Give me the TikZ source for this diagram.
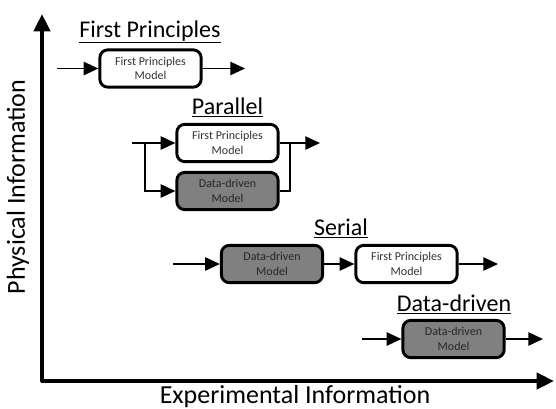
\documentclass[tikz,border=0pt]{standalone}
\usepackage{fontspec}
\setmainfont{Carlito}
\usetikzlibrary{arrows.meta}
\definecolor{ddgray}{RGB}{128,128,128}
\definecolor{txtgray}{RGB}{50,50,50}
\begin{document}
\begin{tikzpicture}[
    x=0.75pt, y=-0.75pt,
    model/.style={rectangle, draw, line width=2.2pt, rounded corners=6pt, minimum width=76pt, minimum height=28pt, align=center, inner sep=0pt, font=\fontsize{9}{11}\selectfont, text=txtgray},
    fpmodel/.style={model, fill=white},
    ddmodel/.style={model, fill=ddgray, text=black!85},
    conn/.style={line width=1.1pt, -{Triangle[length=11pt, width=10pt]}},
    wire/.style={line width=1.1pt},
    axis/.style={line width=3pt, -{Triangle[length=13pt, width=12pt]}},
    heading/.style={anchor=base, font=\fontsize{18}{20}\selectfont},
    axislabel/.style={font=\fontsize{19.5}{21}\selectfont}
]
    \useasboundingbox (0,0) rectangle (556,408);

    % axes
    \coordinate (origin) at (42,381);
    \coordinate (ytip) at (42,14);
    \coordinate (xtip) at (554,381);
    \draw[axis] ([yshift=-1.1pt]origin) -- (ytip);
    \draw[axis] ([xshift=-1.1pt]origin) -- (xtip);
    \node[axislabel, rotate=90] (ylab) at (18,187) {Physical Information};
    \node[axislabel] (xlab) at (295,396.5) {Experimental Information};

    % first principles
    \node[heading] (fptitle) at (150,37) {\underline{First Principles}};
    \node[fpmodel] (fp1) at (150.5,68.5) {First Principles\\Model};
    \coordinate (fp1in) at (57,68.5);
    \coordinate (fp1out) at (245,68.5);
    \draw[conn] (fp1in) -- (fp1.west);
    \draw[conn] (fp1.east) -- (fp1out);

    % parallel
    \node[heading] (partitle) at (227.5,114) {\underline{Parallel}};
    \node[fpmodel] (fp2) at (227.5,143) {First Principles\\Model};
    \node[ddmodel] (dd2) at (227.5,191) {Data-driven\\Model};
    \coordinate (parin) at (132,143);
    \coordinate (parsplit) at (145,143);
    \coordinate (parjoin) at (290,143);
    \coordinate (parout) at (320,143);
    \draw[conn] (parin) -- (fp2.west);
    \draw[conn] (parsplit) |- (dd2.west);
    \draw[conn] (fp2.east) -- (parout);
    \draw[wire] (dd2.east) -| (parjoin);

    % serial
    \node[heading] (sertitle) at (341,235) {\underline{Serial}};
    \node[ddmodel] (dd3) at (272,264) {Data-driven\\Model};
    \node[fpmodel] (fp3) at (406.5,264) {First Principles\\Model};
    \coordinate (serin) at (173,264);
    \coordinate (serout) at (498,264);
    \draw[conn] (serin) -- (dd3.west);
    \draw[conn] (dd3.east) -- (fp3.west);
    \draw[conn] (fp3.east) -- (serout);

    % data-driven
    \node[heading] (ddtitle) at (454,311) {\underline{Data-driven}};
    \node[ddmodel] (dd4) at (453.5,339) {Data-driven\\Model};
    \coordinate (ddin) at (362,339);
    \coordinate (ddout) at (543,339);
    \draw[conn] (ddin) -- (dd4.west);
    \draw[conn] (dd4.east) -- (ddout);
\end{tikzpicture}
\end{document}
